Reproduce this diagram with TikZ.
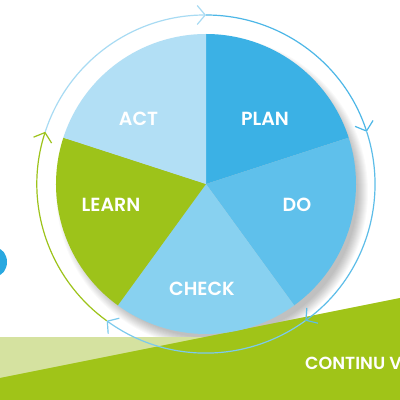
\documentclass[tikz,border=0pt]{standalone}
\usepackage{fontspec}
\setmainfont{Poppins}
\newfontfamily\pmed{Poppins SemiBold}
\usetikzlibrary{arrows.meta,calc}
\definecolor{planc}{HTML}{3BB1E5}
\definecolor{doc}{HTML}{5FC0EB}
\definecolor{checkc}{HTML}{88D1F0}
\definecolor{actc}{HTML}{B2DFF5}
\definecolor{learnc}{HTML}{9DC31A}
\definecolor{lightg}{HTML}{D5E2A0}
\definecolor{darkg}{HTML}{A0C418}
\definecolor{blobc}{HTML}{29A8E0}
\definecolor{ringplan}{HTML}{4DB7E7}
\definecolor{ringdo}{HTML}{5DBDE8}
\definecolor{ringcheck}{HTML}{7CCAED}
\definecolor{ringact}{HTML}{A8DBF3}
\begin{document}
\begin{tikzpicture}[x=1pt,y=1pt,
  lbl/.style={text=white, font=\pmed\fontsize{19}{19}\selectfont, inner sep=0pt},
  ringarc/.style={line width=1.2pt, -{Straight Barb[length=8pt,width=19pt]}}]
\useasboundingbox (0,0) rectangle (400,400);
\fill[white] (0,0) rectangle (400,400);
\coordinate (c) at (206,216);
% shadow of the wheel
\foreach \k in {0,...,10} \fill[black,opacity=0.024] (212,208) circle[radius=146+\k];
% background bands
\fill[lightg] (0,0) rectangle (205,63);
\fill[darkg] (0,22) -- (400,102) -- (400,0) -- (0,0) -- cycle;
\fill[blobc] (-4,138) ellipse [x radius=11, y radius=14];
% wheel
\fill[planc] (c) -- ++(90:150) arc[start angle=90, end angle=18, radius=150] -- cycle;
\fill[doc] (c) -- ++(18:150) arc[start angle=18, end angle=-54, radius=150] -- cycle;
\fill[checkc] (c) -- ++(-54:150) arc[start angle=-54, end angle=-126, radius=150] -- cycle;
\fill[learnc] (c) -- ++(-126:150) arc[start angle=-126, end angle=-198, radius=150] -- cycle;
\fill[actc] (c) -- ++(162:150) arc[start angle=162, end angle=90, radius=150] -- cycle;
% ring points
\coordinate (p90) at ($(c)+(90:169)$);
\coordinate (p18) at ($(c)+(18:169)$);
\coordinate (pm54) at ($(c)+(-54:169)$);
\coordinate (pm126) at ($(c)+(-126:169)$);
\coordinate (p162) at ($(c)+(162:169)$);
\draw[ringarc, ringact] (p162) arc[start angle=162, end angle=90, radius=169];
\draw[ringarc, ringplan] (p90) arc[start angle=90, end angle=18, radius=169];
\draw[ringarc, ringdo] (p18) arc[start angle=18, end angle=-54, radius=169];
\draw[ringarc, ringcheck] (pm54) arc[start angle=-54, end angle=-126, radius=169];
\draw[ringarc, learnc] (pm126) arc[start angle=-126, end angle=-198, radius=169];
% labels
\node[lbl] (act) at (138.5,281) {ACT};
\node[lbl] (plan) at (265,281) {PLAN};
\node[lbl] (do) at (297,195) {DO};
\node[lbl] (learn) at (111,195) {LEARN};
\node[lbl] (check) at (202,111) {CHECK};
\node[lbl, anchor=west, font=\pmed\fontsize{17.5}{17.5}\selectfont] (cont) at (305,36.5) {CONTINU V};
\end{tikzpicture}
\end{document}
